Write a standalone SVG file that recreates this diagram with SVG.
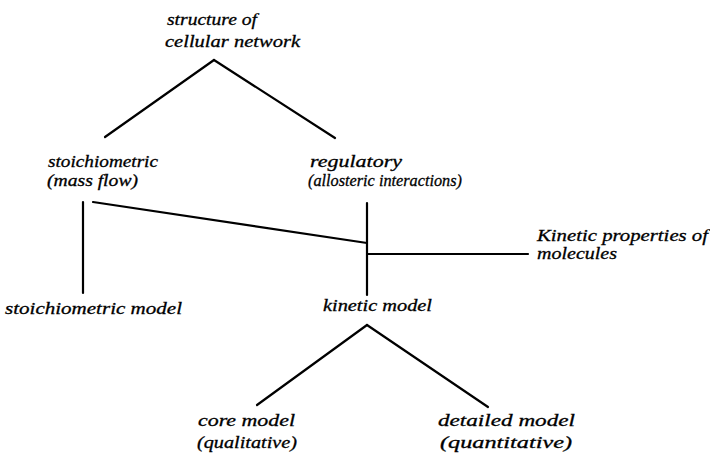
<svg xmlns="http://www.w3.org/2000/svg" width="710" height="459" viewBox="0 0 710 459">
<style>
text{font-family:"Liberation Serif",serif;font-style:italic;font-size:17px;fill:#000;stroke:#000;stroke-width:0.3}
.c line{stroke:#000;stroke-width:2.2;stroke-linecap:round}
</style>
<rect width="710" height="459" fill="#fff"/>
<g id="connectors" class="c">
<line x1="214" y1="60" x2="105" y2="137"/>
<line x1="214" y1="60" x2="335" y2="138"/>
<line x1="83" y1="202" x2="83" y2="293"/>
<line x1="93" y1="202" x2="367" y2="243"/>
<line x1="367" y1="203" x2="367" y2="295"/>
<line x1="367" y1="254" x2="528" y2="254"/>
<line x1="367" y1="325" x2="257" y2="405"/>
<line x1="367" y1="325" x2="488" y2="407"/>
</g>
<g id="structure">
<text x="167" y="25" textLength="90" lengthAdjust="spacingAndGlyphs">structure of</text>
<text x="165" y="47" textLength="135" lengthAdjust="spacingAndGlyphs">cellular network</text>
</g>
<g id="stoichiometric">
<text x="48" y="167" textLength="110" lengthAdjust="spacingAndGlyphs">stoichiometric</text>
<text x="47" y="186" textLength="91" lengthAdjust="spacingAndGlyphs">(mass flow)</text>
</g>
<g id="regulatory">
<text x="310" y="167" textLength="92" lengthAdjust="spacingAndGlyphs">regulatory</text>
<text x="308" y="186" textLength="154" lengthAdjust="spacingAndGlyphs">(allosteric interactions)</text>
</g>
<g id="kinetic-properties">
<text x="537" y="241" textLength="171" lengthAdjust="spacingAndGlyphs">Kinetic properties of</text>
<text x="537" y="259" textLength="80" lengthAdjust="spacingAndGlyphs">molecules</text>
</g>
<g id="stoichiometric-model">
<text x="5" y="314" textLength="177" lengthAdjust="spacingAndGlyphs">stoichiometric model</text>
</g>
<g id="kinetic-model">
<text x="323" y="311" textLength="109" lengthAdjust="spacingAndGlyphs">kinetic model</text>
</g>
<g id="core-model">
<text x="198" y="426" textLength="97" lengthAdjust="spacingAndGlyphs">core model</text>
<text x="197" y="448" textLength="100" lengthAdjust="spacingAndGlyphs">(qualitative)</text>
</g>
<g id="detailed-model">
<text x="438" y="426" textLength="137" lengthAdjust="spacingAndGlyphs">detailed model</text>
<text x="440" y="448" textLength="132" lengthAdjust="spacingAndGlyphs">(quantitative)</text>
</g>
</svg>
